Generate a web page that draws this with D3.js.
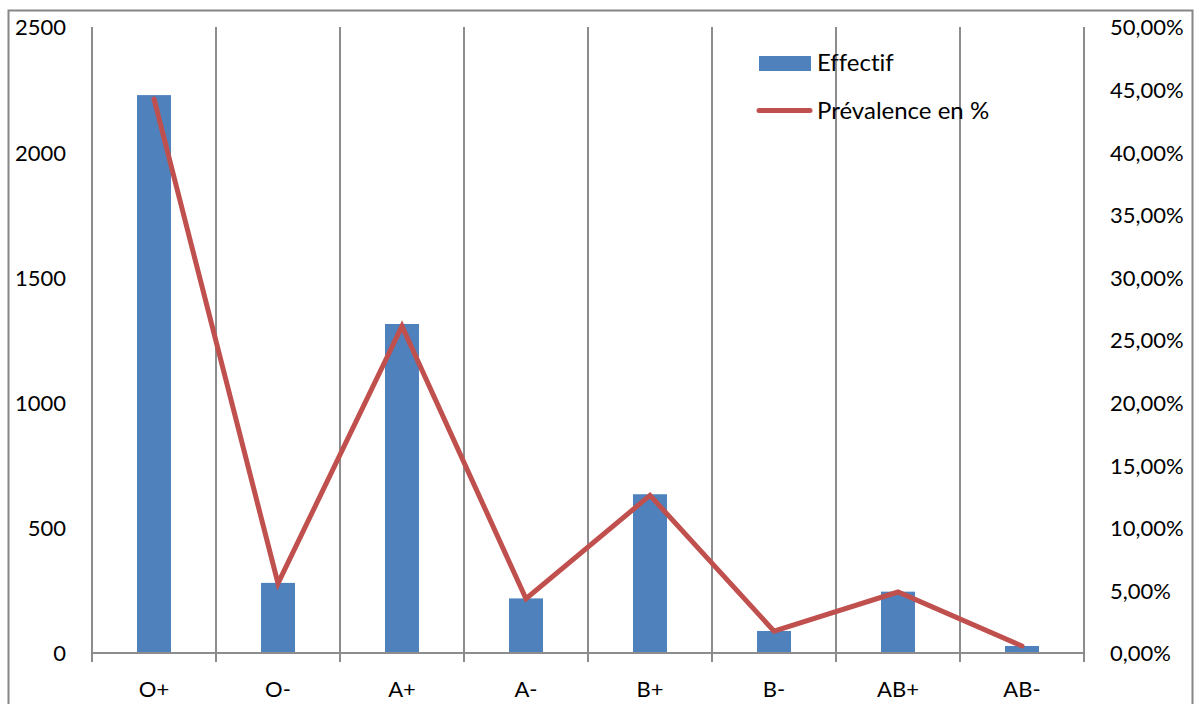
<!DOCTYPE html>
<html>
<head>
<meta charset="utf-8">
<script src="https://cdn.jsdelivr.net/npm/d3@7"></script>
<style>
  html, body { margin: 0; padding: 0; background: #fff; }
  svg text { font-family: Lato, "Open Sans", sans-serif; fill: #000; font-variant-ligatures: none; }
</style>
</head>
<body>
<svg id="chart" width="1197" height="704"></svg>
<script>
// Blood groups and their counts / prevalence
const groups = ["O+", "O-", "A+", "A-", "B+", "B-", "AB+", "AB-"];
const effectif = [2228, 280, 1314, 218, 634, 88, 245, 28];
const prevalence = [44.25, 5.56, 26.10, 4.33, 12.59, 1.75, 4.87, 0.56];
const leftTicks = [0, 500, 1000, 1500, 2000, 2500];
const rightTicks = [0, 5, 10, 15, 20, 25, 30, 35, 40, 45, 50];

const svg = d3.select("#chart");
const plot = { left: 92, right: 1084, top: 27, bottom: 653 };

const x = d3.scaleBand().domain(groups).range([plot.left, plot.right]);
const yL = d3.scaleLinear().domain([0, 2500]).range([plot.bottom, plot.top]);
const yR = d3.scaleLinear().domain([0, 50]).range([plot.bottom, plot.top]);

const gridColor = "#8c8c8c";
const fmtPct = d => d3.format(".2f")(d).replace(".", ",") + "%";

// Outer chart frame
svg.append("path")
  .attr("d", "M8.5,704 L8.5,10.5 L1192.5,10.5 L1192.5,704")
  .attr("fill", "none").attr("stroke", "#868686").attr("stroke-width", 2);

// Vertical category gridlines, extended below the baseline as tick marks
const bounds = groups.map(g => x(g)).concat([plot.right]);
svg.append("g").selectAll("line").data(bounds).join("line")
  .attr("x1", d => d).attr("x2", d => d)
  .attr("y1", plot.top).attr("y2", plot.bottom + 9)
  .attr("stroke", gridColor).attr("stroke-width", 2);

// Bars (counts, left axis)
const barW = 34;
svg.append("g").selectAll("rect").data(effectif).join("rect")
  .attr("x", (d, i) => x(groups[i]) + x.bandwidth() / 2 - barW / 2)
  .attr("width", barW)
  .attr("y", d => yL(d))
  .attr("height", d => plot.bottom - yL(d))
  .attr("fill", "#4f81bd");

// Baseline
svg.append("line")
  .attr("x1", plot.left).attr("x2", plot.right)
  .attr("y1", plot.bottom).attr("y2", plot.bottom)
  .attr("stroke", gridColor).attr("stroke-width", 2);

// Prevalence line (right axis)
const line = d3.line()
  .x((d, i) => x(groups[i]) + x.bandwidth() / 2)
  .y(d => yR(d));
svg.append("path").datum(prevalence)
  .attr("d", line)
  .attr("fill", "none").attr("stroke", "#c0504d")
  .attr("stroke-width", 5).attr("stroke-linecap", "round").attr("stroke-linejoin", "miter");

// Left axis labels
const leftAxis = d3.axisLeft(yL).tickValues(leftTicks).tickSize(0).tickPadding(0).tickFormat(d3.format("d"));
const gL = svg.append("g").attr("transform", "translate(66,0)").call(leftAxis);
gL.select(".domain").remove();
gL.selectAll("text").attr("font-size", 22).attr("dy", "0.36em")
  .style("font-family", "Lato, sans-serif");

// Right axis labels (left-aligned)
const rightAxis = d3.axisRight(yR).tickValues(rightTicks).tickSize(0).tickPadding(0).tickFormat(fmtPct);
const gR = svg.append("g").attr("transform", "translate(1110,0)").call(rightAxis);
gR.select(".domain").remove();
gR.selectAll("text").attr("font-size", 22).attr("dy", "0.36em")
  .style("font-family", "Lato, sans-serif");

// Category labels
const bottomAxis = d3.axisBottom(x).tickSize(0).tickPadding(0);
const gB = svg.append("g").attr("transform", "translate(0,697)").call(bottomAxis);
gB.select(".domain").remove();
gB.selectAll("text").attr("font-size", 22).attr("dy", 0)
  .style("font-family", "Lato, sans-serif");

// Legend
const legend = svg.append("g");
legend.append("rect").attr("x", 759).attr("y", 56).attr("width", 52).attr("height", 15).attr("fill", "#4f81bd");
legend.append("text").attr("x", 817).attr("y", 71).attr("font-size", 24).text("Effectif");
legend.append("line").attr("x1", 759).attr("x2", 810).attr("y1", 110.5).attr("y2", 110.5)
  .attr("stroke", "#c0504d").attr("stroke-width", 5).attr("stroke-linecap", "round");
legend.append("text").attr("x", 817).attr("y", 119).attr("font-size", 24).text("Prévalence en %");
</script>
</body>
</html>
